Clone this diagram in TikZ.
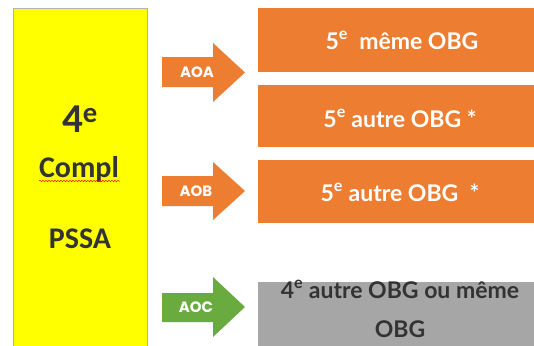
\documentclass[tikz,border=0pt]{standalone}
\usepackage{fontspec}
\usetikzlibrary{decorations.pathmorphing}
\setmainfont{Carlito}
\newfontfamily\boxfont{Lato}
\newfontfamily\labfont{Poppins}
\definecolor{orng}{HTML}{ED7D31}
\definecolor{grn}{HTML}{6AAB3F}
\definecolor{gry}{HTML}{A6A6A6}
\definecolor{ylw}{HTML}{FFFF00}
\definecolor{dtxt}{HTML}{333333}
\begin{document}
\begin{tikzpicture}[x=1pt,y=-1pt,
  blk/.style={fill=orng,draw=none},
  btxt/.style={font=\boxfont\bfseries\fontsize{23}{26}\selectfont,text=white,align=center},
  alab/.style={font=\labfont\bfseries\fontsize{15}{17}\selectfont,text=white},
  ltxt/.style={font=\bfseries,text=dtxt}]
\useasboundingbox (0,0) rectangle (534,345);
\fill[white] (0,0) rectangle (534,345);
% yellow column
\path[fill=ylw,draw=gray!60,line width=0.6pt] (13,8) rectangle (147,350);
\node[ltxt,font=\bfseries\fontsize{41}{43}\selectfont,anchor=base] (four) at (80,132) {4\textsuperscript{e}};
\node[ltxt,font=\bfseries\fontsize{30}{32}\selectfont,anchor=base] (compl) at (79,177) {Compl};
\draw[red,line width=0.5pt,decorate,decoration={snake,amplitude=0.6pt,segment length=3pt}] (39,181) -- (120,181);
\node[ltxt,font=\bfseries\fontsize{30}{32}\selectfont,anchor=base] (pssa) at (80,248) {PSSA};
% right boxes
\path[blk] (258,8) rectangle (546,72);
\node[btxt,anchor=base] (b1) at (402,49) {5\textsuperscript{e}\ \ même OBG};
\path[blk] (258,85) rectangle (546,147);
\node[btxt,anchor=base] (b2) at (400,127) {5\textsuperscript{e} autre OBG *};
\path[blk] (258,160) rectangle (546,223);
\node[btxt,anchor=base] (b3) at (400,201) {5\textsuperscript{e} autre OBG\ \ *};
\path[fill=gry] (258,282) rectangle (546,350);
\node[btxt,text=dtxt,anchor=base] (b4) at (400,298) {4\textsuperscript{e} autre OBG ou même};
\node[btxt,text=dtxt,anchor=base] (b5) at (400,337) {OBG};
% arrows
\fill[orng] (162,57) -- (213,57) -- (213,43) -- (245,72.5) -- (213,102) -- (213,87) -- (162,87) -- cycle;
\node[alab] (aoa) at (197,72) {AOA};
\fill[orng] (162,176) -- (213,176) -- (213,162) -- (245,191) -- (213,220) -- (213,206) -- (162,206) -- cycle;
\node[alab] (aob) at (196,191) {AOB};
\fill[grn] (162,293) -- (213,293) -- (213,277) -- (245,307) -- (213,337) -- (213,322) -- (162,322) -- cycle;
\node[alab] (aoc) at (196,307) {AOC};
\end{tikzpicture}
\end{document}
